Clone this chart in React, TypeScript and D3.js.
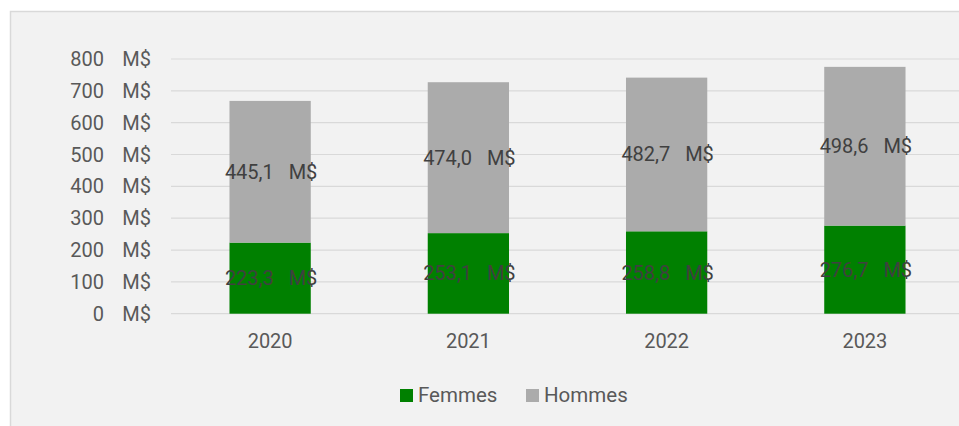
import * as d3 from 'd3';
import React, { useRef, useEffect } from 'react';

const years = ['2020', '2021', '2022', '2023'];
const femmes = [223.3, 253.1, 258.8, 276.7];
const hommes = [445.1, 474.0, 482.7, 498.6];
const yTicks = [0, 100, 200, 300, 400, 500, 600, 700, 800];
const seriesNames = ['Femmes', 'Hommes'];
const seriesColors = ['#008000', '#ababab'];

const W = 959;
const H = 426;
const FONT = 'Roboto, sans-serif';

const fmt = (v: number) => v.toFixed(1).replace('.', ',');

function StackedChart() {
  const ref = useRef<SVGSVGElement>(null);

  useEffect(() => {
    const svg = d3.select(ref.current);
    svg.selectAll('*').remove();

    // chart area background
    svg.append('rect')
      .attr('x', 10.5).attr('y', 11.5)
      .attr('width', W).attr('height', H)
      .attr('fill', '#f2f2f2')
      .attr('stroke', '#d9d9d9')
      .attr('stroke-width', 1.5);

    const x = d3.scaleBand()
      .domain(years)
      .range([171, 964])
      .paddingInner(0.59)
      .paddingOuter(0.295);

    const y = d3.scaleLinear().domain([0, 800]).range([313.7, 59]);

    // gridlines
    svg.append('g')
      .selectAll('line')
      .data(yTicks)
      .enter()
      .append('line')
      .attr('x1', 171).attr('x2', W)
      .attr('y1', d => y(d)).attr('y2', d => y(d))
      .attr('stroke', '#d9d9d9')
      .attr('stroke-width', 1.2);

    // y tick labels: number and unit right-aligned separately
    const yl = svg.append('g')
      .attr('font-family', FONT)
      .attr('font-size', 20)
      .attr('fill', '#595959');
    yl.selectAll('text.num')
      .data(yTicks)
      .enter()
      .append('text')
      .attr('class', 'num')
      .attr('x', 104)
      .attr('y', d => y(d) + 7)
      .attr('text-anchor', 'end')
      .text(d => String(d));
    yl.selectAll('text.unit')
      .data(yTicks)
      .enter()
      .append('text')
      .attr('class', 'unit')
      .attr('x', 151)
      .attr('y', d => y(d) + 7)
      .attr('text-anchor', 'end')
      .text('M$');

    // stacked bars
    const rows = years.map((yr, i) => ({ year: yr, Femmes: femmes[i], Hommes: hommes[i] }));
    const stacked = d3.stack<any>().keys(seriesNames)(rows);

    stacked.forEach((layer, si) => {
      const g = svg.append('g');
      g.selectAll('rect')
        .data(layer)
        .enter()
        .append('rect')
        .attr('x', d => x(d.data.year) as number)
        .attr('width', x.bandwidth())
        .attr('y', d => y(d[1]))
        .attr('height', d => y(d[0]) - y(d[1]))
        .attr('fill', seriesColors[si]);

      g.selectAll('text')
        .data(layer)
        .enter()
        .append('text')
        .attr('x', d => (x(d.data.year) as number) + x.bandwidth() / 2 + 1)
        .attr('y', d => (y(d[0]) + y(d[1])) / 2 + 7)
        .attr('text-anchor', 'middle')
        .attr('font-family', FONT)
        .attr('font-size', 20)
        .attr('fill', '#404040')
        .style('white-space', 'pre')
        .text(d => `${fmt(d[1] - d[0])}   M$`);
    });

    // x axis labels
    svg.append('g')
      .selectAll('text')
      .data(years)
      .enter()
      .append('text')
      .attr('x', d => (x(d) as number) + x.bandwidth() / 2)
      .attr('y', 348)
      .attr('text-anchor', 'middle')
      .attr('font-family', FONT)
      .attr('font-size', 20)
      .attr('fill', '#595959')
      .text(d => d);

    // legend
    const legendX = [400, 526];
    const lg = svg.append('g')
      .selectAll('g')
      .data(seriesNames)
      .enter()
      .append('g')
      .attr('transform', (d, i) => `translate(${legendX[i]},389)`);
    lg.append('rect')
      .attr('width', 13).attr('height', 13)
      .attr('fill', (d, i) => seriesColors[i]);
    lg.append('text')
      .attr('x', 18)
      .attr('y', 13)
      .attr('font-family', FONT)
      .attr('font-size', 20.5)
      .attr('fill', '#595959')
      .text(d => d);
  }, []);

  return (
    <svg
      ref={ref}
      width={W}
      height={H}
      style={{ position: 'absolute', left: 0, top: 0, background: '#fff' }}
    />
  );
}

export default function App() {
  return <StackedChart />;
}
